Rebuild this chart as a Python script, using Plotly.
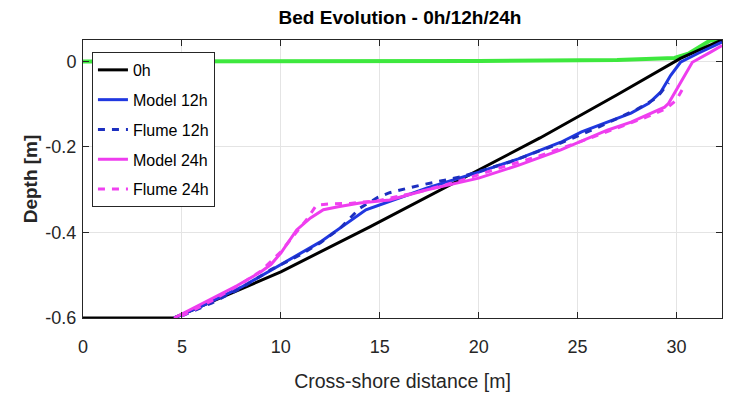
import plotly.graph_objects as go

# 0h initial profile
x_0h = [0, 4.6, 7, 10, 14.5, 18, 23.1, 27, 30.2, 31.3, 32.3]
y_0h = [-0.6, -0.6, -0.552, -0.492, -0.387, -0.303, -0.179, -0.078, 0.007, 0.03, 0.05]

# Model 12h
x_m12 = [4.6, 6, 8, 10, 12, 14.3, 17.4, 20, 22, 24.15, 25.2, 27.7, 28.6, 29.2, 29.7, 30.2, 31.1, 32.3]
y_m12 = [-0.6, -0.572, -0.528, -0.476, -0.422, -0.347, -0.296, -0.259, -0.228, -0.189, -0.165, -0.121, -0.098, -0.072, -0.033, -0.002, 0.019, 0.045]

# Flume 12h
x_f12 = [5, 6.5, 8, 9.5, 11, 12, 13, 14, 14.9, 15.5, 17, 19.1, 21.6, 24.2, 26, 28, 29, 29.6]
y_f12 = [-0.595, -0.565, -0.53, -0.487, -0.452, -0.424, -0.39, -0.343, -0.318, -0.307, -0.29, -0.27, -0.235, -0.19, -0.155, -0.112, -0.085, -0.05]

# Model 24h
x_m24 = [4.6, 6, 7.8, 9.0, 9.5, 10.0, 10.8, 11.5, 12.15, 12.9, 14.0, 15.5, 17.4, 20, 22, 24.15, 26.5, 27.7, 29.4, 29.6, 30.2, 30.8, 31.7, 32.3]
y_m24 = [-0.6, -0.567, -0.524, -0.492, -0.475, -0.448, -0.394, -0.366, -0.347, -0.34, -0.331, -0.324, -0.30, -0.273, -0.243, -0.207, -0.161, -0.142, -0.107, -0.098, -0.049, -0.002, 0.021, 0.037]

# Flume 24h
x_f24 = [5, 6.5, 8, 9, 10, 10.8, 11.3, 11.8, 12.5, 13.5, 15, 17, 19, 21, 23, 25, 27, 28.5, 29.5, 30.0, 30.3]
y_f24 = [-0.595, -0.56, -0.52, -0.49, -0.445, -0.40, -0.37, -0.336, -0.333, -0.332, -0.325, -0.305, -0.28, -0.25, -0.222, -0.19, -0.155, -0.13, -0.11, -0.09, -0.065]

# Water level (green)
x_wl = [0, 10, 20, 27, 29, 29.9, 30.6, 31.1, 31.7, 32.3]
y_wl = [0, 0, 0.001, 0.003, 0.005, 0.008, 0.018, 0.033, 0.049, 0.05]

x_ticks = [0, 5, 10, 15, 20, 25, 30]
y_ticks = [0, -0.2, -0.4, -0.6]
y_ticklabels = ["0", "-0.2", "-0.4", "-0.6"]

FONT = "Liberation Sans, Arial, sans-serif"

# page has an 8px body margin; size the figure so the plot lands where the reference has it
W, H = 723, 393

fig = go.Figure()
fig.add_trace(go.Scatter(x=x_wl, y=y_wl, mode="lines", line=dict(color="#3ee83e", width=4),
                         showlegend=False, hoverinfo="skip"))
fig.add_trace(go.Scatter(x=x_0h, y=y_0h, mode="lines", name="0h", legendgroup="a",
                         line=dict(color="black", width=3)))
fig.add_trace(go.Scatter(x=x_m12, y=y_m12, mode="lines", name="Model 12h", legendgroup="b",
                         line=dict(color="#2038e0", width=3)))
fig.add_trace(go.Scatter(x=x_f12, y=y_f12, mode="lines", name="Flume 12h", legendgroup="c",
                         line=dict(color="#1c2fc0", width=3, dash="7px,7px")))
fig.add_trace(go.Scatter(x=x_m24, y=y_m24, mode="lines", name="Model 24h", legendgroup="d",
                         line=dict(color="#ee3dee", width=3)))
fig.add_trace(go.Scatter(x=x_f24, y=y_f24, mode="lines", name="Flume 24h", legendgroup="e",
                         line=dict(color="#f040f0", width=3, dash="7px,7px")))

axis_common = dict(
    showline=True, linecolor="#262626", linewidth=1, mirror="ticks",
    ticks="inside", ticklen=6, tickcolor="#262626", tickwidth=1,
    showgrid=True, gridcolor="#e4e4e4", gridwidth=1, zeroline=False,
    automargin=False,
)

fig.update_layout(
    width=W, height=H,
    margin=dict(l=75, r=9, t=32, b=83),
    paper_bgcolor="white", plot_bgcolor="white",
    title=dict(text="<b>Bed Evolution - 0h/12h/24h</b>", x=(400 - 8) / W, xref="container", xanchor="center",
               y=1 - 9 / H, yref="container", yanchor="middle",
               font=dict(family=FONT, size=19, color="black")),
    xaxis=dict(range=[0, 32.3], tickvals=x_ticks, ticklabelstandoff=12,
               tickfont=dict(family=FONT, size=18, color="#262626"),
               title=dict(text="Cross-shore distance [m]", standoff=18,
                          font=dict(family=FONT, size=19.5, color="#262626")),
               **axis_common),
    yaxis=dict(range=[-0.6, 0.05], tickvals=y_ticks, ticktext=y_ticklabels, ticklabelstandoff=2,
               tickfont=dict(family=FONT, size=18, color="#262626"),
               title=dict(text="<b>Depth [m]</b>", standoff=2,
                          font=dict(family=FONT, size=19, color="#262626")),
               **axis_common),
    legend=dict(x=0.014, y=0.957, xanchor="left", yanchor="top",
                bgcolor="white", bordercolor="#262626", borderwidth=1,
                font=dict(family=FONT, size=16, color="black"),
                tracegroupgap=6, itemwidth=30),
    showlegend=True,
)

fig.write_html("out.html")
